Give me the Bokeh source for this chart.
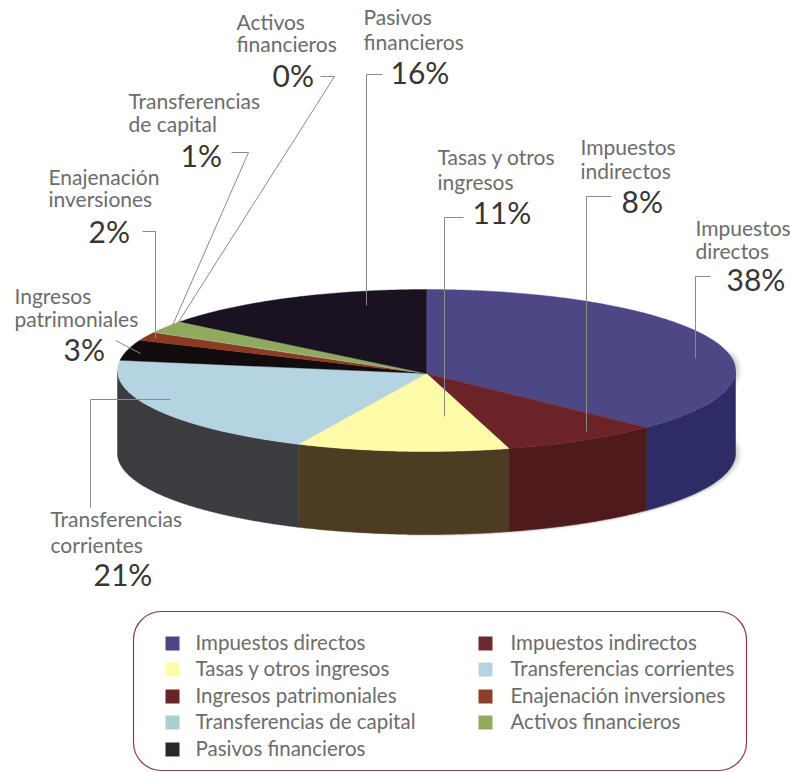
import math
from bokeh.plotting import figure
from bokeh.models import BoxAnnotation
from bokeh.core.properties import value
from bokeh.embed import file_html
from bokeh.resources import INLINE

# ---- data ----
categories = ["Impuestos directos", "Impuestos indirectos", "Tasas y otros ingresos",
              "Transferencias corrientes", "Ingresos patrimoniales", "Enajenación inversiones",
              "Transferencias de capital", "Activos financieros", "Pasivos financieros"]
percent_labels = ["38%", "8%", "11%", "21%", "3%", "2%", "1%", "0%", "16%"]
# slice sizes as actually drawn in the picture (%)
drawn_shares = [37.4, 8.3, 11.1, 20.2, 4.1, 1.7, 0.1, 2.4, 14.7]

# ---- styles ----
top_colors = ["#4d4786", "#6b2327", "#fdfba8", "#b4d4e2", "#120c0e", "#8c3a22", "#a9cfd0", "#8faa5e", "#1a1220"]
side_colors = ["#2d2c66", "#4f1a1c", "#4b3c22", "#3c3b40", "#120c0e", "#4a1c12", "#4a5a5a", "#4a5a30", "#1a1220"]
legend_colors = ["#4d4786", "#6b2a2e", "#fdfba8", "#b4d4e2", "#6a2428", "#8c3f2c", "#a9cfd0", "#8faa5e", "#2e2430"]

CX, CY, RX, RY, DEPTH = 426, 370, 309, 81, 83
TXT, BIG = "#6c6c6c", "#3a3535"
FONT = "Lato"
TEXT_SHIFT = -2


def pt(t, dy=0, grow=0):
    return (CX + (RX + grow) * math.sin(t), CY + dy - (RY + grow * 0.3) * math.cos(t))


def arc(a, b, dy=0, grow=0):
    n = max(2, int(abs(b - a) / 0.01))
    return [pt(a + (b - a) * i / n, dy, grow) for i in range(n + 1)]


p = figure(width=791, height=772, x_range=(0, 791), y_range=(772, 0),
           output_backend="svg", toolbar_location=None, min_border=0,
           outline_line_color=None, background_fill_color="white")
p.axis.visible = False
p.grid.visible = False

# soft shadow below/right of the disc
for grow, alpha in [(7, 0.05), (5, 0.07), (3, 0.10), (1, 0.14)]:
    pts = arc(math.pi * 0.42, math.pi * 1.02, DEPTH, grow) + arc(math.pi * 1.02, math.pi * 0.42, 0, grow)
    p.patch([q[0] for q in pts], [q[1] for q in pts], color="#555555", alpha=alpha, line_color=None)

# slices
total = sum(drawn_shares)
edges = [0.0]
for s in drawn_shares:
    edges.append(edges[-1] + s / total * 2 * math.pi)

for i in range(len(categories)):
    a, b = max(edges[i], math.pi / 2), min(edges[i + 1], 3 * math.pi / 2)
    if b > a:
        pts = arc(a, b) + arc(b, a, DEPTH)
        p.patch([q[0] for q in pts], [q[1] for q in pts], fill_color=side_colors[i],
                line_color=side_colors[i], line_width=0.5)
for i in range(len(categories)):
    pts = [(CX, CY + 3)] + arc(edges[i], edges[i + 1])
    p.patch([q[0] for q in pts], [q[1] for q in pts], fill_color=top_colors[i],
            line_color=top_colors[i], line_width=0.4)

# leader lines
leaders = [
    ([382, 366, 366], [74, 74, 305]),
    ([320, 334, 177], [76, 76, 323]),
    ([231, 248, 172], [152, 152, 325]),
    ([142, 155, 155], [231, 231, 338]),
    ([115, 140], [340, 353]),
    ([90, 90, 170], [507, 399, 399]),
    ([463, 444, 444], [217, 217, 416]),
    ([611, 586, 586], [196, 196, 431]),
    ([710, 695, 695], [276, 276, 358]),
]
p.multi_line([l[0] for l in leaders], [l[1] for l in leaders], line_color="#8a8a8a", line_width=1)

# callout labels: (line 1, line 2, x, y1, y2, percent index, percent x, percent y)
callouts = [
    ("Activos", "financieros", 236, 23, 45, 7, 272, 76),
    ("Pasivos", "financieros", 363, 18, 43, 8, 390, 73),
    ("Transferencias", "de capital", 128, 102, 125, 6, 180, 156),
    ("Enajenación", "inversiones", 48, 178, 200, 5, 88, 232),
    ("Ingresos", "patrimoniales", 14, 297, 320, 4, 63, 350),
    ("Tasas y otros", "ingresos", 437, 158, 183, 2, 472, 213),
    ("Impuestos", "indirectos", 580, 148, 172, 1, 621, 202),
    ("Impuestos", "directos", 695, 229, 252, 0, 726, 280),
    ("Transferencias", "corrientes", 50, 520, 546, 3, 93, 575),
]
for l1, l2, x, y1, y2, k, px, py in callouts:
    p.text([x, x], [y1 + TEXT_SHIFT, y2 + TEXT_SHIFT], text=[l1, l2], text_font=value(FONT),
           text_font_size="21px", text_color=TXT, text_align="left", text_baseline="middle")
    p.text([px], [py + TEXT_SHIFT], text=[percent_labels[k]], text_font=value(FONT), text_font_size="30px",
           text_color=BIG, text_align="left", text_baseline="middle")

# legend
p.add_layout(BoxAnnotation(left=133, right=746, top=611, bottom=770, fill_color=None,
                           line_color="#8c3a44", line_width=1.2, line_alpha=1, fill_alpha=0,
                           border_radius=28))
rows = [643, 669, 696, 722, 749]
for i, name in enumerate(categories):
    col, row = (i % 2, i // 2)
    sx, tx = (172, 195) if col == 0 else (485, 510)
    p.scatter([sx], [rows[row]], marker="square", size=14, fill_color=legend_colors[i], line_color=None)
    p.text([tx], [rows[row] + TEXT_SHIFT], text=[name], text_font=value(FONT), text_font_size="20.5px",
           text_color=TXT, text_align="left", text_baseline="middle")

open("out.html", "w").write(file_html(p, INLINE))
